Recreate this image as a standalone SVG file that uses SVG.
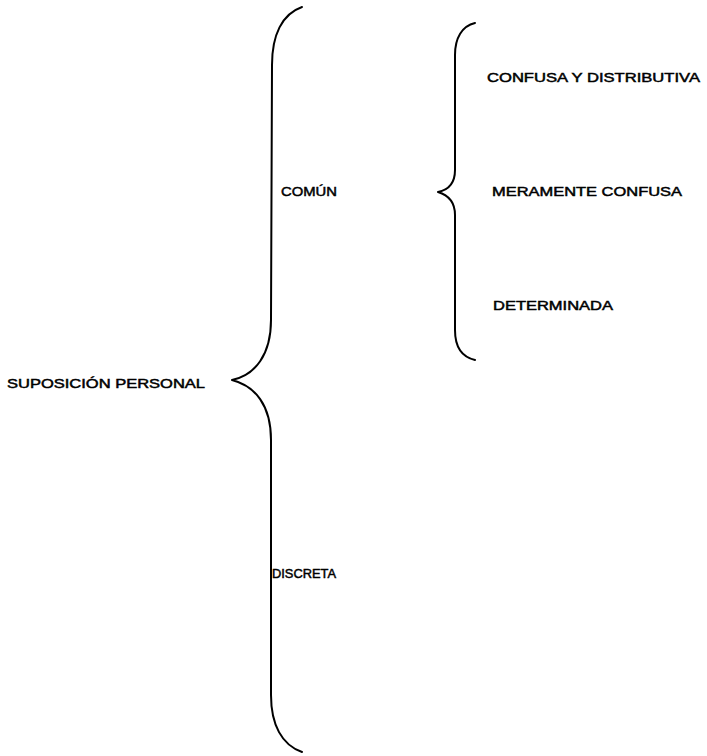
<svg xmlns="http://www.w3.org/2000/svg" width="707" height="756" viewBox="0 0 707 756">
  <style>
    .brace { fill: none; stroke: #000; stroke-width: 2; stroke-linecap: round; stroke-linejoin: round; }
    .lbl { font-family: "Liberation Sans", Arial, sans-serif; font-size: 13.5px; fill: #000; stroke: #000; stroke-width: 0.5; }
  </style>
  <rect width="707" height="756" fill="#fff"/>
  <g id="connectors">
    <!-- main brace -->
    <path class="brace" d="M302,7 C282,14 272,35 272,65 L271,320 C271,355 255,375 232,380 C255,386 271,405 271,440 L271,695 C271,725 282,745 302,752"/>
    <!-- secondary brace -->
    <path class="brace" d="M475,23 C462,26 455,38 455,55 L455,170 C455,183 448,190 438,192 C448,195 455,202 455,215 L455,330 C455,348 462,357 475,360"/>
  </g>
  <g id="root">
    <text class="lbl" x="7" y="388" textLength="198" lengthAdjust="spacingAndGlyphs">SUPOSICIÓN PERSONAL</text>
  </g>
  <g id="comun">
    <text class="lbl" x="281" y="196" textLength="56" lengthAdjust="spacingAndGlyphs">COMÚN</text>
  </g>
  <g id="discreta">
    <text class="lbl" x="272" y="578" textLength="64" lengthAdjust="spacingAndGlyphs">DISCRETA</text>
  </g>
  <g id="confusa-distributiva">
    <text class="lbl" x="487" y="82" textLength="213" lengthAdjust="spacingAndGlyphs">CONFUSA Y DISTRIBUTIVA</text>
  </g>
  <g id="meramente-confusa">
    <text class="lbl" x="492" y="196" textLength="190" lengthAdjust="spacingAndGlyphs">MERAMENTE CONFUSA</text>
  </g>
  <g id="determinada">
    <text class="lbl" x="493" y="310" textLength="120" lengthAdjust="spacingAndGlyphs">DETERMINADA</text>
  </g>
</svg>
